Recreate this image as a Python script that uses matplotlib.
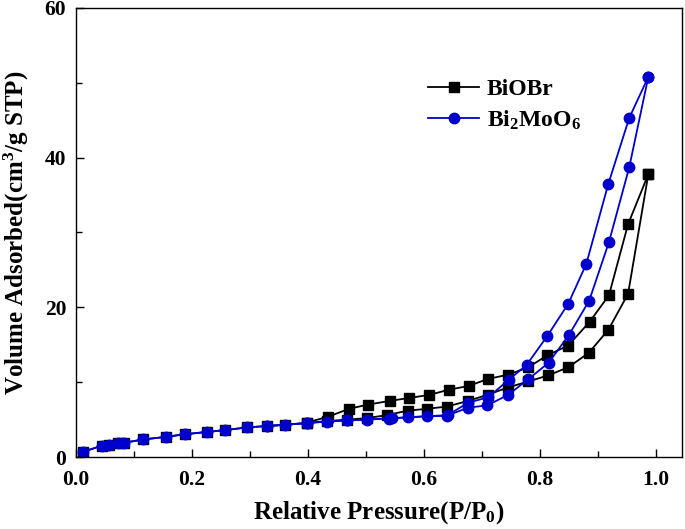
import matplotlib
matplotlib.use("Agg")
import matplotlib.pyplot as plt
from matplotlib.ticker import MultipleLocator

plt.rcParams['font.family'] = ['Liberation Serif', 'DejaVu Serif']
plt.rcParams['font.weight'] = 'bold'
plt.rcParams['mathtext.fontset'] = 'custom'
plt.rcParams['mathtext.rm'] = 'Liberation Serif:bold'
plt.rcParams['mathtext.it'] = 'Liberation Serif:bold'
plt.rcParams['mathtext.bf'] = 'Liberation Serif:bold'

# BiOBr adsorption (lower) and desorption (upper) branches
biobr_ads_x = [0.012, 0.044, 0.056, 0.073, 0.082, 0.116, 0.155, 0.188, 0.225, 0.257,
               0.294, 0.329, 0.36, 0.398, 0.432, 0.467, 0.501, 0.536, 0.572, 0.606,
               0.640, 0.676, 0.711, 0.745, 0.780, 0.814, 0.849, 0.884, 0.918, 0.952, 0.987]
biobr_ads_y = [0.7, 1.5, 1.6, 1.9, 1.9, 2.35, 2.7, 3.05, 3.35, 3.6,
               3.95, 4.15, 4.3, 4.55, 4.8, 5.0, 5.2, 5.6, 6.2, 6.45,
               6.75, 7.5, 8.35, 9.3, 10.1, 10.9, 12.0, 13.9, 17.0, 21.8, 37.8]
biobr_des_x = [0.987, 0.952, 0.919, 0.886, 0.849, 0.813, 0.780, 0.745, 0.711, 0.677,
               0.643, 0.609, 0.575, 0.541, 0.503, 0.471, 0.435, 0.398]
biobr_des_y = [37.8, 31.1, 21.6, 18.1, 14.9, 13.6, 12.0, 11.0, 10.45, 9.5,
               9.0, 8.3, 7.9, 7.5, 7.0, 6.45, 5.4, 4.6]

# Bi2MoO6 adsorption (lower) and desorption (upper) branches
bmo_ads_x = [0.012, 0.044, 0.056, 0.073, 0.082, 0.116, 0.155, 0.188, 0.225, 0.257,
             0.294, 0.329, 0.36, 0.398, 0.432, 0.467, 0.501, 0.539, 0.573, 0.605,
             0.639, 0.676, 0.709, 0.745, 0.780, 0.815, 0.850, 0.885, 0.919, 0.954, 0.987]
bmo_ads_y = [0.7, 1.5, 1.6, 1.9, 1.9, 2.35, 2.7, 3.05, 3.35, 3.6,
             3.95, 4.15, 4.3, 4.55, 4.75, 4.9, 5.0, 5.15, 5.3, 5.45,
             5.5, 6.6, 6.9, 8.3, 10.4, 12.6, 16.3, 20.9, 28.7, 38.7, 50.8]
bmo_des_x = [0.987, 0.954, 0.918, 0.880, 0.849, 0.813, 0.777, 0.746, 0.711, 0.676,
             0.641, 0.545, 0.467, 0.398, 0.329]
bmo_des_y = [50.8, 45.3, 36.5, 25.8, 20.5, 16.2, 12.3, 10.3, 8.0, 7.25,
             5.6, 5.2, 4.9, 4.55, 4.15]

x_ticks = [0.0, 0.2, 0.4, 0.6, 0.8, 1.0]
y_ticks = [0, 20, 40, 60]

black = '#000000'
blue = '#0000CC'

fig = plt.figure(figsize=(6.85, 5.29), dpi=100)
ax = fig.add_axes([0.111, 0.136, 0.8846, 0.849])

ax.plot(biobr_ads_x, biobr_ads_y, '-s', color=black, ms=6.5, lw=1.3, label='BiOBr')
ax.plot(biobr_des_x, biobr_des_y, '-s', color=black, ms=6.5, lw=1.3)
ax.plot(bmo_ads_x, bmo_ads_y, '-o', color=blue, ms=7.5, lw=1.3, label=r'Bi$_{\mathbf{2}}$MoO$_{\mathbf{6}}$')
ax.plot(bmo_des_x, bmo_des_y, '-o', color=blue, ms=7.5, lw=1.3)

ax.set_xlim(0, 1.045)
ax.set_ylim(0, 60)
ax.set_xticks(x_ticks)
ax.set_xticklabels(['%.1f' % v for v in x_ticks])
ax.set_yticks(y_ticks)
ax.set_yticklabels([str(v) for v in y_ticks])
ax.xaxis.set_minor_locator(MultipleLocator(0.1))
ax.yaxis.set_minor_locator(MultipleLocator(10))
ax.tick_params(which='both', direction='in', top=False, right=False,
               labelsize=15.5, width=1.0)
ax.tick_params(which='major', length=6)
ax.tick_params(which='minor', length=4)
ax.tick_params(axis='x', pad=9)
ax.tick_params(axis='y', pad=7)
for lab in ax.get_xticklabels() + ax.get_yticklabels():
    lab.set_fontweight('bold')
for sp in ax.spines.values():
    sp.set_linewidth(1.0)

ax.set_xlabel('Relative Pressure(P/P$_0$)', fontsize=18, fontweight='bold', labelpad=7)
ax.set_ylabel('Volume Adsorbed(cm$^3$/g STP)', fontsize=18, fontweight='bold', labelpad=10)

leg = ax.legend(loc='upper left', bbox_to_anchor=(0.545, 0.89), frameon=False,
                prop={'family': 'Liberation Serif', 'weight': 'bold', 'size': 17},
                handlelength=2.2, handletextpad=0.3, labelspacing=0.35)

fig.savefig('out.png', dpi=100)
